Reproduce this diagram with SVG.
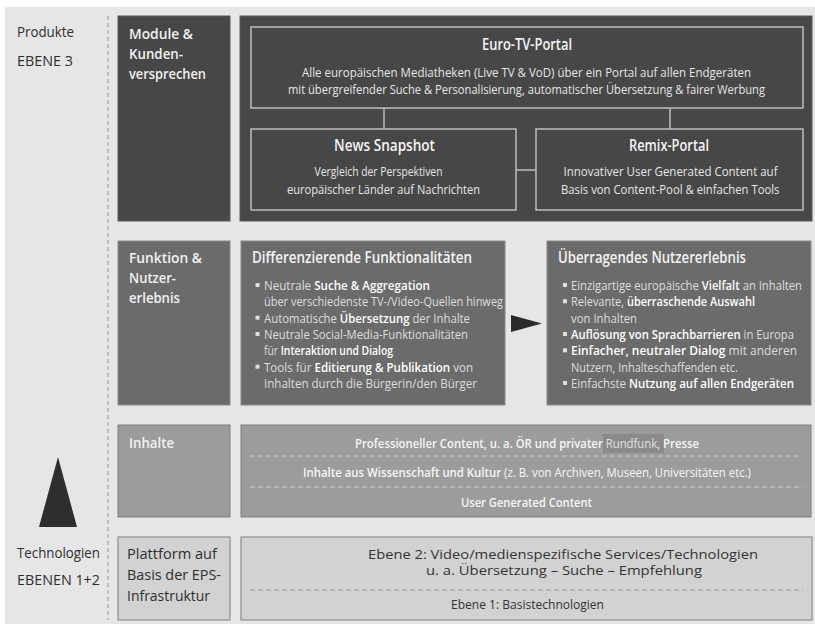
<svg xmlns="http://www.w3.org/2000/svg" width="815" height="624" viewBox="0 0 815 624">
<defs>
<style>
text{font-family:"Open Sans","Liberation Sans",sans-serif;}
.side{font-size:14px;fill:#2e2e2e;}
.lab{font-size:14.5px;font-weight:600;fill:#f2f2f2;}
.labd{font-size:14.5px;font-weight:400;fill:#2e2e2e;}
.ttl{font-size:15.5px;font-weight:600;fill:#f4f4f4;}
.body{font-size:13px;fill:#e6e6e6;}
.mid{font-size:13px;fill:#dedede;}
.b{font-weight:600;fill:#ffffff;}
.inh{font-size:12.5px;font-weight:600;fill:#f6f6f6;}
.inhn{font-weight:400;}
.bot{font-size:12px;fill:#333333;}
.dark{fill:#474747;stroke:#585858;stroke-width:1;}
.inner{fill:#474747;stroke:#bdbdbd;stroke-width:1.5;}
.midbox{fill:#6b6b6b;stroke:#8a8a8a;stroke-width:1;}
.inhbox{fill:#9c9c9c;stroke:#7c7c7c;stroke-width:1;}
.botbox{fill:#d2d2d2;stroke:#8e8e8e;stroke-width:1.2;}
.conn{stroke:#bdbdbd;stroke-width:1.5;fill:none;}
.dash{stroke:#c9c9c9;stroke-width:1;stroke-dasharray:5 3;fill:none;}
.dashb{stroke:#9a9a9a;stroke-width:1;stroke-dasharray:5 3;fill:none;}
.bul{fill:#dedede;}
</style>
</defs>
<rect x="0" y="0" width="815" height="624" fill="#ffffff"/>
<rect x="5" y="7" width="810" height="617" fill="#e6e6e6"/>
<line x1="108" y1="16" x2="108" y2="620" stroke="#9a9a9a" stroke-width="1" stroke-dasharray="4 3"/>

<g id="side-labels">
<text class="side" x="17" y="37" textLength="57" lengthAdjust="spacingAndGlyphs">Produkte</text>
<text class="side" x="17" y="66" textLength="56" lengthAdjust="spacingAndGlyphs">EBENE 3</text>
<text class="side" x="17" y="558" textLength="83" lengthAdjust="spacingAndGlyphs">Technologien</text>
<text class="side" x="17" y="585" textLength="83" lengthAdjust="spacingAndGlyphs">EBENEN 1+2</text>
</g>

<g id="pyramid">
<polygon points="58,457 39,527 77,527" fill="#2e2e2e"/>
</g>

<g id="module-label">
<rect class="dark" x="118" y="16" width="112" height="205"/>
<text class="lab" x="129" y="39" textLength="64" lengthAdjust="spacingAndGlyphs">Module &amp;</text>
<text class="lab" x="129" y="59" textLength="54" lengthAdjust="spacingAndGlyphs">Kunden-</text>
<text class="lab" x="129" y="79" textLength="77" lengthAdjust="spacingAndGlyphs">versprechen</text>
</g>

<g id="module-panel">
<rect class="dark" x="240" y="16" width="572" height="205"/>
</g>

<g id="euro-tv-portal">
<rect class="inner" x="251" y="27" width="552" height="81"/>
<text class="ttl" x="482" y="50" textLength="90" lengthAdjust="spacingAndGlyphs">Euro-TV-Portal</text>
<text class="body" x="302" y="77" textLength="449" lengthAdjust="spacingAndGlyphs">Alle europäischen Mediatheken (Live TV &amp; VoD) über ein Portal auf allen Endgeräten</text>
<text class="body" x="288" y="94" textLength="477" lengthAdjust="spacingAndGlyphs">mit übergreifender Suche &amp; Personalisierung, automatischer Übersetzung &amp; fairer Werbung</text>
</g>

<g id="news-snapshot">
<rect class="inner" x="251" y="129" width="265" height="81"/>
<text class="ttl" x="334" y="151" textLength="101" lengthAdjust="spacingAndGlyphs">News Snapshot</text>
<text class="body" x="314.5" y="176" textLength="128" lengthAdjust="spacingAndGlyphs">Vergleich der Perspektiven</text>
<text class="body" x="287" y="194" textLength="193" lengthAdjust="spacingAndGlyphs">europäischer Länder auf Nachrichten</text>
</g>

<g id="remix-portal">
<rect class="inner" x="536" y="129" width="267" height="81"/>
<text class="ttl" x="629" y="151" textLength="80" lengthAdjust="spacingAndGlyphs">Remix-Portal</text>
<text class="body" x="563.5" y="176" textLength="214" lengthAdjust="spacingAndGlyphs">Innovativer User Generated Content auf</text>
<text class="body" x="561" y="194" textLength="218.5" lengthAdjust="spacingAndGlyphs">Basis von Content-Pool &amp; einfachen Tools</text>
</g>

<g id="funktion-label">
<rect class="midbox" x="118" y="241" width="112" height="164"/>
<text class="lab" x="129" y="263" textLength="73" lengthAdjust="spacingAndGlyphs">Funktion &amp;</text>
<text class="lab" x="129" y="283" textLength="47" lengthAdjust="spacingAndGlyphs">Nutzer-</text>
<text class="lab" x="129" y="303" textLength="51" lengthAdjust="spacingAndGlyphs">erlebnis</text>
</g>

<g id="differenzierende-funktionalitaeten">
<rect class="midbox" x="241" y="241" width="264" height="164"/>
<text class="ttl" x="252" y="263" textLength="220" lengthAdjust="spacingAndGlyphs">Differenzierende Funktionalitäten</text>
<rect class="bul" x="255.5" y="283" width="4" height="4"/>
<rect class="bul" x="255.5" y="315.7" width="4" height="4"/>
<rect class="bul" x="255.5" y="332" width="4" height="4"/>
<rect class="bul" x="255.5" y="364.7" width="4" height="4"/>
<text class="mid" x="264" y="290" textLength="166" lengthAdjust="spacingAndGlyphs">Neutrale <tspan class="b">Suche &amp; Aggregation</tspan></text>
<text class="mid" x="264" y="306.3" textLength="239" lengthAdjust="spacingAndGlyphs">über verschiedenste TV-/Video-Quellen hinweg</text>
<text class="mid" x="264" y="322.7" textLength="206" lengthAdjust="spacingAndGlyphs">Automatische <tspan class="b">Übersetzung</tspan> der Inhalte</text>
<text class="mid" x="264" y="339" textLength="204" lengthAdjust="spacingAndGlyphs">Neutrale Social-Media-Funktionalitäten</text>
<text class="mid" x="264" y="355.3" textLength="129" lengthAdjust="spacingAndGlyphs">für <tspan class="b">Interaktion und Dialog</tspan></text>
<text class="mid" x="264" y="371.7" textLength="209" lengthAdjust="spacingAndGlyphs">Tools für <tspan class="b">Editierung &amp; Publikation</tspan> von</text>
<text class="mid" x="264" y="388" textLength="213" lengthAdjust="spacingAndGlyphs">Inhalten durch die Bürgerin/den Bürger</text>
</g>

<g id="ueberragendes-nutzererlebnis">
<rect class="midbox" x="547" y="241" width="264" height="164"/>
<text class="ttl" x="558" y="263" textLength="188" lengthAdjust="spacingAndGlyphs">Überragendes Nutzererlebnis</text>
<rect class="bul" x="563" y="283" width="4" height="4"/>
<rect class="bul" x="563" y="299.3" width="4" height="4"/>
<rect class="bul" x="563" y="332" width="4" height="4"/>
<rect class="bul" x="563" y="348.3" width="4" height="4"/>
<rect class="bul" x="563" y="381" width="4" height="4"/>
<text class="mid" x="571" y="290" textLength="231" lengthAdjust="spacingAndGlyphs">Einzigartige europäische <tspan class="b">Vielfalt</tspan> an Inhalten</text>
<text class="mid" x="571" y="306.3" textLength="184" lengthAdjust="spacingAndGlyphs">Relevante, <tspan class="b">überraschende Auswahl</tspan></text>
<text class="mid" x="571" y="322.7" textLength="66" lengthAdjust="spacingAndGlyphs">von Inhalten</text>
<text class="mid" x="571" y="339" textLength="223" lengthAdjust="spacingAndGlyphs"><tspan class="b">Auflösung von Sprachbarrieren</tspan> in Europa</text>
<text class="mid" x="571" y="355.3" textLength="226" lengthAdjust="spacingAndGlyphs"><tspan class="b">Einfacher, neutraler Dialog</tspan> mit anderen</text>
<text class="mid" x="571" y="371.7" textLength="167" lengthAdjust="spacingAndGlyphs">Nutzern, Inhalteschaffenden etc.</text>
<text class="mid" x="571" y="388" textLength="223" lengthAdjust="spacingAndGlyphs">Einfachste <tspan class="b">Nutzung auf allen Endgeräten</tspan></text>
</g>

<g id="inhalte-label">
<rect class="inhbox" x="118" y="425" width="112" height="92"/>
<text class="lab" x="129" y="448" textLength="45" lengthAdjust="spacingAndGlyphs">Inhalte</text>
</g>

<g id="inhalte-content">
<rect class="inhbox" x="241" y="425" width="570" height="92"/>
<rect x="603" y="434" width="61" height="19" fill="#8a8a8a"/>
<text class="inh" x="355" y="447.5" textLength="344" lengthAdjust="spacingAndGlyphs">Professioneller Content, u. a. ÖR und privater <tspan class="inhn" fill="#e2e2e2">Rundfunk,</tspan> Presse</text>
<line class="dash" x1="250" y1="456" x2="803" y2="456"/>
<text class="inh" x="303" y="477" textLength="448" lengthAdjust="spacingAndGlyphs">Inhalte aus Wissenschaft und Kultur <tspan class="inhn">(z. B. von Archiven, Museen, Universitäten etc.)</tspan></text>
<line class="dash" x1="250" y1="487" x2="803" y2="487"/>
<text class="inh" x="461" y="507" textLength="131" lengthAdjust="spacingAndGlyphs">User Generated Content</text>
</g>

<g id="plattform-label">
<rect class="botbox" x="118" y="537" width="112" height="83"/>
<text class="labd" x="127" y="559" textLength="90" lengthAdjust="spacingAndGlyphs">Plattform auf</text>
<text class="labd" x="127" y="580" textLength="94" lengthAdjust="spacingAndGlyphs">Basis der EPS-</text>
<text class="labd" x="127" y="601" textLength="83" lengthAdjust="spacingAndGlyphs">Infrastruktur</text>
</g>

<g id="ebenen">
<rect class="botbox" x="241" y="537" width="571" height="83"/>
<text class="bot" x="368" y="559" textLength="390" lengthAdjust="spacingAndGlyphs">Ebene 2:  Video/medienspezifische Services/Technologien</text>
<text class="bot" x="426" y="575" textLength="276" lengthAdjust="spacingAndGlyphs">u. a. Übersetzung – Suche – Empfehlung</text>
<line class="dashb" x1="250" y1="590" x2="803" y2="590"/>
<text class="bot" x="451" y="609" textLength="153" lengthAdjust="spacingAndGlyphs">Ebene 1:  Basistechnologien</text>
</g>

<g id="connectors">
<line class="conn" x1="384" y1="108" x2="384" y2="129"/>
<line class="conn" x1="670" y1="108" x2="670" y2="129"/>
<line class="conn" x1="516" y1="170" x2="536" y2="170"/>
<polygon points="511,315 511,332 542,323.5" fill="#2a2a2a"/>
</g>
</svg>
